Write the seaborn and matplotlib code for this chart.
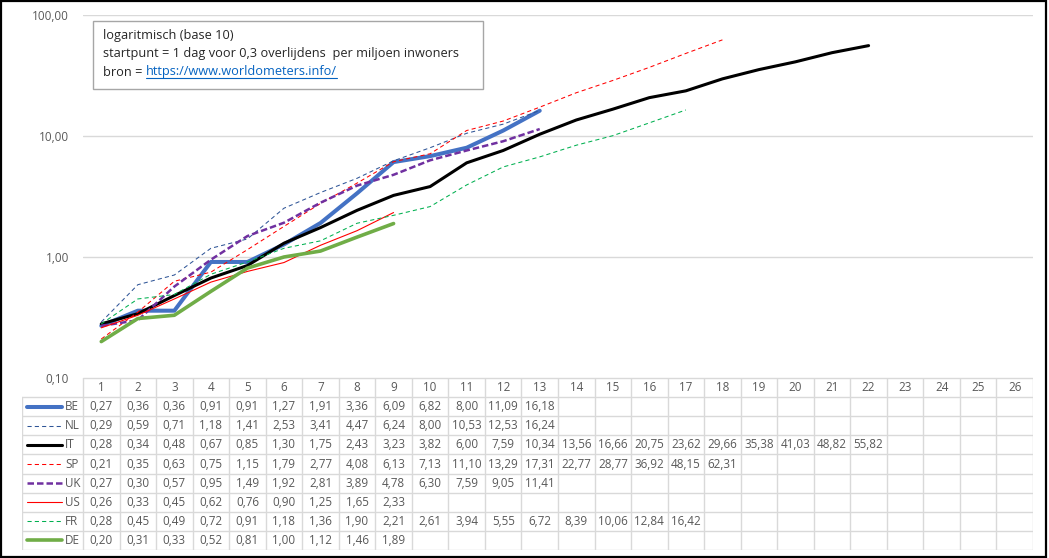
import numpy as np
import pandas as pd
import matplotlib
matplotlib.use("Agg")
import matplotlib.pyplot as plt
from matplotlib.patches import Rectangle
from matplotlib.lines import Line2D
import seaborn as sns

# deaths per million, day 1 = first day with 0.3 deaths per million
days = list(range(1, 27))
countries = ["BE", "NL", "IT", "SP", "UK", "US", "FR", "DE"]
be = [0.27, 0.36, 0.36, 0.91, 0.91, 1.27, 1.91, 3.36, 6.09, 6.82, 8.00, 11.09, 16.18]
nl = [0.29, 0.59, 0.71, 1.18, 1.41, 2.53, 3.41, 4.47, 6.24, 8.00, 10.53, 12.53, 16.24]
it = [0.28, 0.34, 0.48, 0.67, 0.85, 1.30, 1.75, 2.43, 3.23, 3.82, 6.00, 7.59, 10.34,
      13.56, 16.66, 20.75, 23.62, 29.66, 35.38, 41.03, 48.82, 55.82]
sp = [0.21, 0.35, 0.63, 0.75, 1.15, 1.79, 2.77, 4.08, 6.13, 7.13, 11.10, 13.29, 17.31,
      22.77, 28.77, 36.92, 48.15, 62.31]
uk = [0.27, 0.30, 0.57, 0.95, 1.49, 1.92, 2.81, 3.89, 4.78, 6.30, 7.59, 9.05, 11.41]
us = [0.26, 0.33, 0.45, 0.62, 0.76, 0.90, 1.25, 1.65, 2.33]
fr = [0.28, 0.45, 0.49, 0.72, 0.91, 1.18, 1.36, 1.90, 2.21, 2.61, 3.94, 5.55, 6.72,
      8.39, 10.06, 12.84, 16.42]
de = [0.20, 0.31, 0.33, 0.52, 0.81, 1.00, 1.12, 1.46, 1.89]
series = dict(zip(countries, [be, nl, it, sp, uk, us, fr, de]))

styles = {
    "BE": dict(color="#4472C4", lw=2.9, ls="-"),
    "NL": dict(color="#2F5597", lw=0.75, ls=(0, (4, 3))),
    "IT": dict(color="black", lw=2.2, ls="-"),
    "SP": dict(color="#FF0000", lw=0.75, ls=(0, (4, 3))),
    "UK": dict(color="#7030A0", lw=1.8, ls=(0, (2.6, 1.2))),
    "US": dict(color="#FF0000", lw=0.8, ls="-"),
    "FR": dict(color="#00B050", lw=0.75, ls=(0, (4, 3))),
    "DE": dict(color="#70AD47", lw=2.6, ls="-"),
}

rows = []
for c, vals in series.items():
    for d, v in zip(days, vals):
        rows.append({"land": c, "dag": d, "waarde": v})
df = pd.DataFrame(rows)

sns.set_style("white")
plt.rcParams["font.family"] = ["Open Sans", "DejaVu Sans"]

W, H = 1049, 558
fig = plt.figure(figsize=(W / 100, H / 100), dpi=100)

def px(x0, y0, x1, y1):
    return [x0 / W, 1 - y1 / H, (x1 - x0) / W, (y1 - y0) / H]

left, right, top, bottom = 83, 1033, 15, 378
ax = fig.add_axes(px(left, top, right, bottom))
for c in countries:
    st = styles[c]
    sub = df[df["land"] == c]
    sns.lineplot(data=sub, x="dag", y="waarde", ax=ax, color=st["color"],
                 linewidth=st["lw"], linestyle=st["ls"], zorder=3)
ax.set_yscale("log")
ax.set_ylim(0.1, 100)
ax.set_xlim(0.5, 26.5)
ax.set_yticks([0.1, 1, 10, 100])
ax.set_yticklabels(["0,10", "1,00", "10,00", "100,00"])
ax.minorticks_off()
ax.yaxis.grid(True, color="#D9D9D9", lw=1)
ax.set_xticks([])
ax.tick_params(axis="y", length=0, pad=10, labelsize=8.5, labelcolor="#595959")
ax.set_xlabel("")
ax.set_ylabel("")
for s in ax.spines.values():
    s.set_visible(False)

# data table under the plot
colw = (right - left) / 26
leg_left = 22
tab = fig.add_axes(px(leg_left, bottom, right, 550))
x_min = 0.5 - (left - leg_left) / colw
tab.set_xlim(x_min, 26.5)
tab.set_ylim(9, 0)
tab.axis("off")
gc = "#D9D9D9"
tab.plot([0.5, 26.5], [0, 0], color=gc, lw=1)
for r in range(1, 10):
    tab.plot([x_min, 26.5], [r, r], color=gc, lw=1)
for i in range(27):
    tab.plot([i + 0.5, i + 0.5], [0, 9], color=gc, lw=1)
tab.plot([x_min, x_min], [1, 9], color=gc, lw=1)
fs = 8.4
for d in days:
    tab.text(d, 0.5, str(d), ha="center", va="center", fontsize=fs, color="#595959")
for r, c in enumerate(countries, start=1):
    st = styles[c]
    tab.add_line(Line2D([x_min + 0.13, x_min + 1.1], [r + 0.5, r + 0.5], color=st["color"],
                        lw=st["lw"], ls=st["ls"]))
    tab.text(x_min + 1.18, r + 0.5, c, ha="left", va="center", fontsize=fs, color="#595959")
    for d, v in zip(days, series[c]):
        tab.text(d, r + 0.5, f"{v:.2f}".replace(".", ","), ha="center", va="center",
                 fontsize=fs, color="#595959")

# annotation box
bfs = 9.2
fig.patches.append(Rectangle((93 / W, 1 - 89 / H), 390 / W, 68 / H, transform=fig.transFigure,
                             fill=False, edgecolor="#A6A6A6", lw=1))
fig.text(103 / W, 1 - 35 / H, "logaritmisch (base 10)", fontsize=bfs, va="center")
fig.text(103 / W, 1 - 53 / H, "startpunt = 1 dag voor 0,3 overlijdens  per miljoen inwoners",
         fontsize=bfs, va="center")
t0 = fig.text(103 / W, 1 - 72 / H, "bron = ", fontsize=bfs, va="center")
fig.canvas.draw()
bb = t0.get_window_extent()
link = fig.text(bb.x1 / W, 1 - 72 / H, "https://www.worldometers.info/", fontsize=bfs,
                va="center", color="#0563C1")
fig.canvas.draw()
lb = link.get_window_extent()
fig.lines.append(Line2D([lb.x0 / W, lb.x1 / W], [(lb.y0 + 1) / H, (lb.y0 + 1) / H],
                        transform=fig.transFigure, color="#0563C1", lw=0.8))

# outer border
fig.patches.append(Rectangle((1 / W, 1 / H), 1045 / W, 556 / H, transform=fig.transFigure,
                             fill=False, edgecolor="black", lw=1.6))

fig.savefig("out.png", dpi=100)
